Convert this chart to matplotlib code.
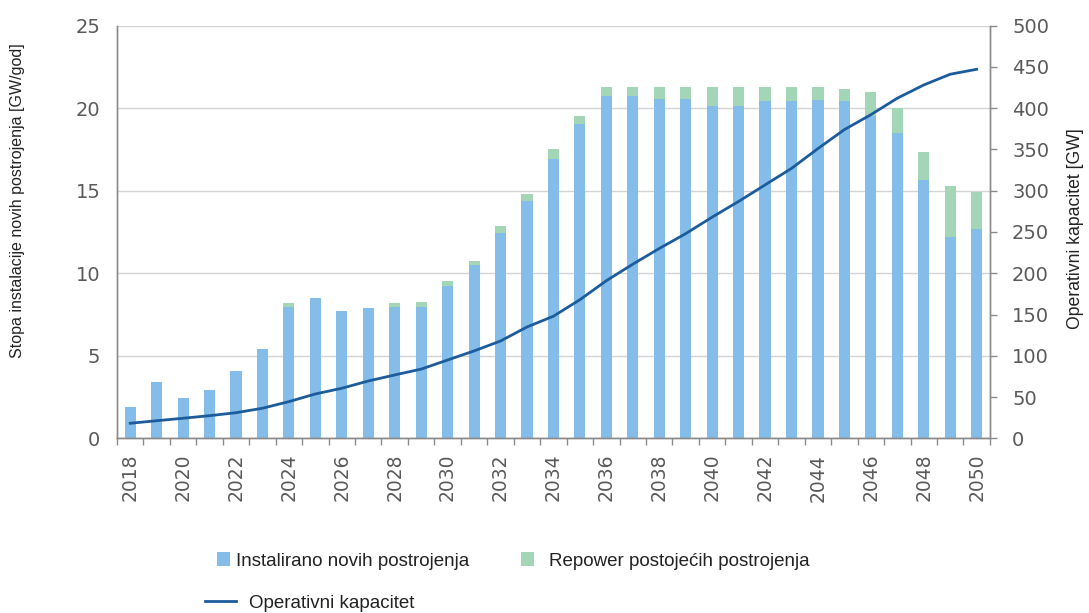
import matplotlib
matplotlib.use("Agg")
import matplotlib.pyplot as plt
import numpy as np

years = list(range(2018, 2051))
new_installs = [1.92, 3.44, 2.47, 2.94, 4.10, 5.44, 7.98, 8.52, 7.72, 7.88, 7.94,
                7.94, 9.23, 10.50, 12.46, 14.39, 16.94, 19.04, 20.73, 20.73, 20.55,
                20.55, 20.13, 20.13, 20.45, 20.45, 20.49, 20.45, 19.50, 18.47, 15.65,
                12.22, 12.68]
repower = [0, 0, 0, 0, 0, 0, 0.24, 0, 0, 0, 0.28,
           0.30, 0.32, 0.24, 0.42, 0.41, 0.56, 0.48, 0.57, 0.57, 0.75,
           0.75, 1.17, 1.17, 0.85, 0.85, 0.81, 0.72, 1.46, 1.52, 1.69,
           3.06, 2.26]
operating = [18.4, 21.5, 24.5, 27.6, 31.2, 36.6, 44.6, 53.9, 60.8, 69.6, 76.9,
             84, 95, 106, 118, 135, 148, 168, 191, 211, 230,
             248, 268, 287, 307, 327, 351, 374, 392, 412, 428,
             441, 447]
left_ticks = [0, 5, 10, 15, 20, 25]
right_ticks = list(range(0, 501, 50))

lbl_new = "Instalirano novih postrojenja"
lbl_rep = "Repower postojećih postrojenja"
lbl_op = "Operativni kapacitet"

c_blue = "#84BDE9"
c_green = "#A2D6B6"
c_line = "#1C5C9C"
c_tick = "#5a5a5a"
c_spine = "#8a8a8a"
c_grid = "#d4d4d4"

fig = plt.figure(figsize=(10.89, 6.13), dpi=100)
ax = fig.add_axes([0.1074, 0.2847, 0.8016, 0.6737])
ax2 = ax.twinx()

x = np.arange(len(years))
b1 = ax.bar(x, new_installs, width=0.42, color=c_blue, zorder=2, label=lbl_new)
b2 = ax.bar(x, repower, width=0.42, bottom=new_installs, color=c_green, zorder=2, label=lbl_rep)
ln, = ax2.plot(x, operating, color=c_line, lw=2.0, zorder=3, label=lbl_op)

ax.set_xlim(-0.5, len(years) - 0.5)
ax.set_ylim(0, 25)
ax2.set_ylim(0, 500)
ax.set_yticks(left_ticks)
ax2.set_yticks(right_ticks)
ax.yaxis.grid(True, color=c_grid, lw=1.0, zorder=0)
ax.set_axisbelow(True)

# x ticks at category boundaries, labels every other year
ax.set_xticks(np.arange(-0.5, len(years), 1.0))
ax.set_xticklabels([])
ax.set_xticks(x[::2], minor=True)
ax.set_xticklabels([str(y) for y in years[::2]], minor=True, rotation=90,
                   fontsize=13.5, color=c_tick, family="DejaVu Sans")
ax.tick_params(axis="x", which="major", length=5, width=1, color=c_spine, direction="out")
ax.tick_params(axis="x", which="minor", length=0, pad=11)

ax.tick_params(axis="y", length=0, pad=12, labelsize=14, labelcolor=c_tick)
ax2.tick_params(axis="y", length=5, width=1, color=c_spine, pad=11, labelsize=14, labelcolor=c_tick)

for a in (ax, ax2):
    a.spines["top"].set_visible(False)
    for s in ("left", "right", "bottom"):
        a.spines[s].set_color(c_spine)
        a.spines[s].set_linewidth(1.0)

fig.text(18 / 1089, 1 - 201 / 613, "Stopa instalacije novih postrojenja [GW/god]",
         rotation=90, ha="center", va="center", fontsize=11.5,
         family="Liberation Sans", color="#222222")
fig.text(1076 / 1089, 1 - 229 / 613, "Operativni kapacitet [GW]",
         rotation=90, ha="center", va="center", fontsize=12.7,
         family="Liberation Sans", color="#222222")

fs_leg = 13.5
leg_kw = dict(frameon=False, loc="center left", borderpad=0, borderaxespad=0,
              prop={"family": "Liberation Sans", "size": fs_leg})
leg1 = fig.legend([b1], [lbl_new], bbox_to_anchor=(217 / 1089, 1 - 561 / 613),
                  handlelength=0.7, handleheight=0.7, handletextpad=0.32, **leg_kw)
leg2 = fig.legend([b2], [lbl_rep], bbox_to_anchor=(521 / 1089, 1 - 561 / 613),
                  handlelength=0.7, handleheight=0.7, handletextpad=0.8, **leg_kw)
leg3 = fig.legend([ln], [lbl_op], bbox_to_anchor=(205 / 1089, 1 - 603 / 613),
                  handlelength=1.65, handletextpad=0.7, **leg_kw)
for lg in (leg1, leg2, leg3):
    for t in lg.get_texts():
        t.set_color("#222222")

fig.savefig("out.png", dpi=100)
